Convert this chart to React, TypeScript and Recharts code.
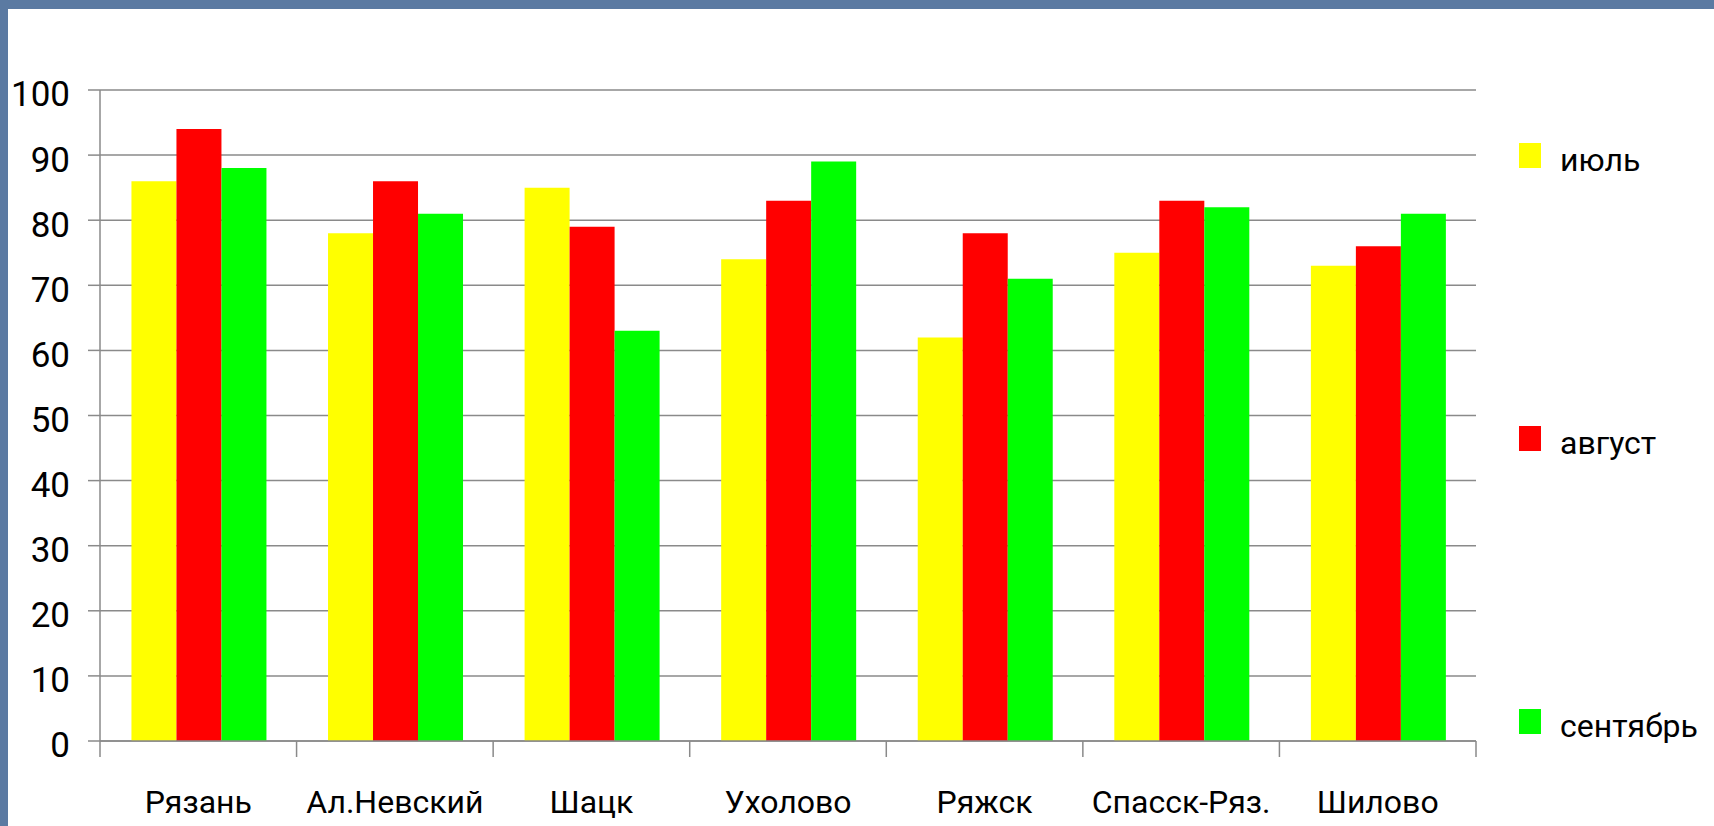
import React from 'react';
import { BarChart, Bar, XAxis, YAxis, CartesianGrid, Legend } from 'recharts';

// districts along the x axis
const towns = ['Рязань', 'Ал.Невский', 'Шацк', 'Ухолово', 'Ряжск', 'Спасск-Ряз.', 'Шилово'];

// monthly values
const july = [86, 78, 85, 74, 62, 75, 73];
const august = [94, 86, 79, 83, 78, 83, 76];
const september = [88, 81, 63, 89, 71, 82, 81];

const seriesNames = ['июль', 'август', 'сентябрь'];

const yTicks = [0, 10, 20, 30, 40, 50, 60, 70, 80, 90, 100];

const data = towns.map((name, i) => ({
  name,
  july: july[i],
  august: august[i],
  september: september[i],
}));

const GRID = '#8a8a8a';
const X_TICK_SIZE = 6;
const X_TICK_MARGIN = 43;
const BOUND_TICK = 16;

// town label plus the small separator marks between categories
function TownTick(props: any) {
  const { x, y, payload, index, visibleTicksCount } = props;
  const half = payload?.offset ?? 0;
  const axisY = y - X_TICK_SIZE - X_TICK_MARGIN;
  const last = index === visibleTicksCount - 1;
  return (
    <g>
      <line x1={x - half} x2={x - half} y1={axisY} y2={axisY + BOUND_TICK} stroke={GRID} strokeWidth={1.5} />
      {last && (
        <line x1={x + half} x2={x + half} y1={axisY} y2={axisY + BOUND_TICK} stroke={GRID} strokeWidth={1.5} />
      )}
      <text x={x} y={y} dy="0.71em" textAnchor="middle" fill="#000" fontSize={32}>
        {payload.value}
      </text>
    </g>
  );
}

function SideLegend({ payload }: any) {
  // keep the series order, recharts sorts legend items by name otherwise
  const items = [...(payload || [])].sort(
    (a: any, b: any) => seriesNames.indexOf(a.value) - seriesNames.indexOf(b.value),
  );
  return (
    <div style={{ display: 'flex', flexDirection: 'column' }}>
      {items.map((item: any, i: number) => (
        <div
          key={item.value}
          style={{ display: 'flex', alignItems: 'center', height: 40, marginTop: i === 0 ? 0 : 243 }}
        >
          <span style={{ width: 22, height: 25, background: item.color, position: 'relative', top: -5 }} />
          <span style={{ marginLeft: 19, fontSize: 32, color: '#000', lineHeight: '40px' }}>{item.value}</span>
        </div>
      ))}
    </div>
  );
}

export default function App() {
  return (
    <div
      style={{
        position: 'fixed',
        left: 0,
        top: 0,
        width: 1714,
        height: 826,
        background: '#5b7aa2',
        fontFamily: 'Roboto, sans-serif',
        overflow: 'hidden',
      }}
    >
      <div style={{ position: 'absolute', left: 8, top: 9, right: 0, bottom: 0, background: '#fff' }} />
      <div style={{ position: 'absolute', left: 0, top: 0 }}>
        <BarChart
          width={1714}
          height={826}
          data={data}
          margin={{ top: 90, right: 238, bottom: 0, left: 0 }}
          barCategoryGap="16%"
          barGap={0}
        >
          <CartesianGrid vertical={false} stroke={GRID} strokeWidth={1.5} />
          <XAxis
            dataKey="name"
            height={85}
            tickLine={false}
            tickSize={X_TICK_SIZE}
            tickMargin={X_TICK_MARGIN}
            axisLine={{ stroke: GRID, strokeWidth: 1.5 }}
            tick={<TownTick />}
            interval={0}
          />
          <YAxis
            domain={[0, 100]}
            ticks={yTicks}
            width={100}
            tickSize={12}
            tickMargin={18}
            tickLine={{ stroke: GRID, strokeWidth: 1.5 }}
            axisLine={{ stroke: GRID, strokeWidth: 1.5 }}
            tick={{ fill: '#000', fontSize: 35, dy: 4 }}
          />
          <Legend
            layout="vertical"
            align="center"
            verticalAlign="middle"
            content={<SideLegend />}
            wrapperStyle={{ left: 1519, top: 140, width: 'auto' }}
          />
          <Bar dataKey="july" name="июль" fill="#ffff00" isAnimationActive={false} />
          <Bar dataKey="august" name="август" fill="#ff0000" isAnimationActive={false} />
          <Bar dataKey="september" name="сентябрь" fill="#00ff00" isAnimationActive={false} />
        </BarChart>
      </div>
    </div>
  );
}
